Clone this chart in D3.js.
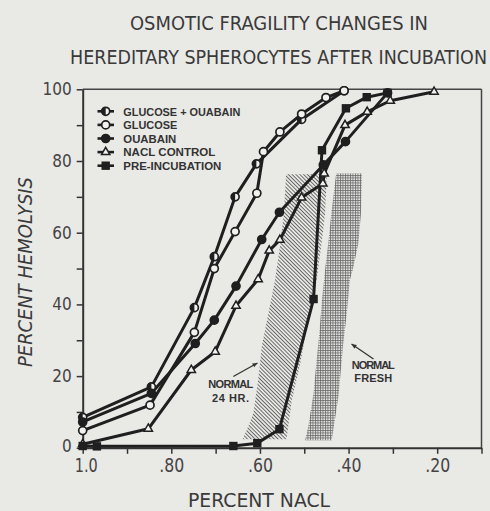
<!DOCTYPE html>
<html><head><meta charset="utf-8">
<script src="https://cdn.jsdelivr.net/npm/d3@7"></script>
<style>
html,body{margin:0;padding:0;background:#e9e9e6;}
svg{display:block;}
</style></head>
<body>
<script>
// ---- DATA ----
const titleLines = ["OSMOTIC FRAGILITY CHANGES IN", "HEREDITARY SPHEROCYTES AFTER INCUBATION"];
const xLabel = "PERCENT NACL";
const yLabel = "PERCENT HEMOLYSIS";
const xTicks = [1.0, 0.9, 0.8, 0.7, 0.6, 0.5, 0.4, 0.3, 0.2, 0.1];
const xTickLabels = ["1.0", "", ".80", "", ".60", "", ".40", "", ".20", ""];
const yTicks = [0, 10, 20, 30, 40, 50, 60, 70, 80, 90, 100];
const yTickLabels = ["0", "", "20", "", "40", "", "60", "", "80", "", "100"];

const seriesNames = ["GLUCOSE + OUABAIN", "GLUCOSE", "OUABAIN", "NACL CONTROL", "PRE-INCUBATION"];
const seriesMarkers = ["half", "open", "filled", "triangle", "square"];

const glucoseOuabainX = [1.0, 0.845, 0.748, 0.703, 0.656, 0.608, 0.506, 0.41];
const glucoseOuabainY = [8.5, 17.0, 39.1, 53.3, 70.0, 79.2, 91.6, 99.6];

const glucoseX = [1.0, 0.848, 0.748, 0.703, 0.656, 0.607, 0.592, 0.555, 0.506, 0.451, 0.41];
const glucoseY = [4.8, 11.9, 32.2, 50.0, 60.3, 71.0, 82.6, 88.1, 93.1, 97.7, 99.6];

const ouabainX = [1.0, 0.845, 0.746, 0.703, 0.654, 0.596, 0.556, 0.457, 0.407, 0.312];
const ouabainY = [7.2, 15.2, 29.1, 35.6, 45.1, 58.1, 65.7, 78.9, 85.4, 99.0];

const naclX = [1.0, 0.852, 0.755, 0.701, 0.654, 0.604, 0.579, 0.555, 0.506, 0.458, 0.455, 0.408, 0.358, 0.306, 0.207];
const naclY = [1.0, 5.3, 21.7, 26.8, 39.6, 47.0, 55.0, 58.0, 69.8, 73.7, 76.5, 90.0, 93.7, 96.8, 99.3];

const preincX = [1.0, 0.968, 0.66, 0.606, 0.556, 0.479, 0.46, 0.406, 0.359, 0.312];
const preincY = [0.5, 0.4, 0.5, 1.3, 5.2, 41.5, 83.0, 94.7, 97.8, 99.0];

// shaded normal ranges (left edge top->bottom, right edge bottom->top)
const normal24X = [0.541, 0.546, 0.555, 0.566, 0.581, 0.596, 0.604, 0.615, 0.630, 0.639,
                   0.540, 0.528, 0.509, 0.491, 0.472, 0.460, 0.453, 0.449];
const normal24Y = [76.3, 65.4, 56.1, 46.8, 37.5, 28.2, 18.9, 9.6, 4.9, 2.4,
                   2.4, 13.3, 23.5, 35.7, 46.8, 57.9, 65.4, 76.3];
const normalFreshX = [0.428, 0.438, 0.446, 0.453, 0.460, 0.466, 0.472, 0.479, 0.491, 0.498,
                      0.438, 0.423, 0.412, 0.404, 0.397, 0.389, 0.378, 0.372, 0.370];
const normalFreshY = [76.5, 66.3, 57.0, 49.6, 41.2, 31.9, 24.5, 15.2, 5.9, 2.1,
                      2.1, 14.2, 29.1, 37.5, 46.8, 50.5, 57.0, 65.4, 76.5];

const annot24 = ["NORMAL", "24 HR."];
const annotFresh = ["NORMAL", "FRESH"];

// ---- CHART ----
const W = 490, H = 511;
const ink = "#1f1f1f", textInk = "#3a3a3a";
const svg = d3.select("body").append("svg").attr("width", W).attr("height", H);
svg.append("rect").attr("width", W).attr("height", H).attr("fill", "#e9e9e6");

const x = d3.scaleLinear().domain([1.0, 0.1]).range([82.7, 481.5]);
const y = d3.scaleLinear().domain([0, 100]).range([447.8, 89.3]);

const defs = svg.append("defs");
const hatch = defs.append("pattern").attr("id", "hatch").attr("patternUnits", "userSpaceOnUse")
  .attr("width", 2.7).attr("height", 2.7).attr("patternTransform", "rotate(45)");
hatch.append("line").attr("x1", 0).attr("y1", 0.5).attr("x2", 2.7).attr("y2", 0.5)
  .attr("stroke", "#5a5a5a").attr("stroke-width", 0.9);
const grid = defs.append("pattern").attr("id", "grid").attr("patternUnits", "userSpaceOnUse")
  .attr("width", 2.5).attr("height", 2.5);
grid.append("path").attr("d", "M0,0.5H2.5M0.5,0V2.5").attr("stroke", "#666").attr("stroke-width", 0.8);

// title
const tFont = "'Liberation Sans Narrow','DejaVu Sans Condensed','Roboto Condensed',sans-serif";
svg.append("text").attr("x", 130).attr("y", 29.5).attr("textLength", 298).attr("lengthAdjust", "spacingAndGlyphs")
  .attr("font-family", tFont).attr("font-size", 19.5).attr("fill", textInk).text(titleLines[0]);
svg.append("text").attr("x", 70).attr("y", 64).attr("textLength", 417).attr("lengthAdjust", "spacingAndGlyphs")
  .attr("font-family", tFont).attr("font-size", 19.5).attr("fill", textInk).text(titleLines[1]);

// shaded regions
const area = (xs, ys) => d3.line()(xs.map((v, i) => [x(v), y(ys[i])])) + "Z";
svg.append("path").attr("d", area(normal24X, normal24Y)).attr("fill", "url(#hatch)");
svg.append("path").attr("d", area(normalFreshX, normalFreshY)).attr("fill", "url(#grid)");

// frame
svg.append("line").attr("x1", x(1.0)).attr("x2", x(0.1)).attr("y1", y(100)).attr("y2", y(100)).attr("stroke", "#444").attr("stroke-width", 1.5);
svg.append("line").attr("x1", x(0.1)).attr("x2", x(0.1)).attr("y1", y(100)).attr("y2", y(0)).attr("stroke", "#444").attr("stroke-width", 1.5);

// axes
const xAxis = svg.append("g").attr("transform", `translate(0,${y(0)})`)
  .call(d3.axisBottom(x).tickValues(xTicks).tickSize(6).tickSizeOuter(0)
    .tickFormat((d, i) => xTickLabels[i]));
const yAxis = svg.append("g").attr("transform", `translate(${x(1.0)},0)`)
  .call(d3.axisLeft(y).tickValues(yTicks).tickSize(6).tickSizeOuter(0)
    .tickFormat((d, i) => yTickLabels[i]));
[xAxis, yAxis].forEach(g => {
  g.select(".domain").attr("stroke", "#333").attr("stroke-width", 2);
  g.selectAll(".tick line").attr("stroke", "#333").attr("stroke-width", 1.5);
});
const numFont = "'Liberation Sans Narrow','DejaVu Sans Condensed',sans-serif";
xAxis.selectAll(".tick text").attr("font-family", numFont).attr("font-size", 20)
  .attr("fill", "#444").attr("y", 10).attr("dy", "0.71em")
  .each(function(d, i) {
    if (xTickLabels[i]) d3.select(this).attr("textLength", i === 0 ? 23 : 25).attr("lengthAdjust", "spacingAndGlyphs");
  })
  .attr("dx", (d, i) => i === 0 ? 3 : 0);
yAxis.selectAll(".tick text").attr("font-family", numFont).attr("font-size", 17)
  .attr("fill", "#444").attr("x", -11)
  .attr("dy", (d) => d === 0 ? "0.2em" : "0.32em");

// axis titles
svg.append("text").attr("x", 188).attr("y", 507).attr("textLength", 142).attr("lengthAdjust", "spacingAndGlyphs")
  .attr("font-family", tFont).attr("font-size", 19.5).attr("fill", textInk).text(xLabel);
svg.append("text").attr("transform", "translate(32,367) rotate(-90)").attr("textLength", 190)
  .attr("lengthAdjust", "spacingAndGlyphs").attr("font-style", "italic")
  .attr("font-family", tFont).attr("font-size", 19).attr("fill", textInk).text(yLabel);

// series
const series = [
  {xs: glucoseOuabainX, ys: glucoseOuabainY, m: seriesMarkers[0]},
  {xs: glucoseX, ys: glucoseY, m: seriesMarkers[1]},
  {xs: ouabainX, ys: ouabainY, m: seriesMarkers[2]},
  {xs: naclX, ys: naclY, m: seriesMarkers[3]},
  {xs: preincX, ys: preincY, m: seriesMarkers[4]}
];
const line = d3.line();
series.forEach(s => {
  svg.append("path").attr("d", line(s.xs.map((v, i) => [x(v), y(s.ys[i])])))
    .attr("fill", "none").attr("stroke", ink).attr("stroke-width", 3).attr("stroke-linejoin", "round");
});

function marker(g, type, cx, cy) {
  if (type === "open" || type === "half" || type === "filled") {
    g.append("circle").attr("cx", cx).attr("cy", cy).attr("r", 4)
      .attr("fill", type === "filled" ? ink : "#f2f2f0").attr("stroke", ink).attr("stroke-width", 1.7);
    if (type === "half") {
      g.append("path").attr("d", `M${cx},${cy - 4}A4,4 0 0 0 ${cx},${cy + 4}Z`).attr("fill", ink);
    }
  } else if (type === "triangle") {
    g.append("path").attr("d", d3.symbol().type(d3.symbolTriangle).size(30)())
      .attr("transform", `translate(${cx},${cy})`).attr("fill", "#f2f2f0").attr("stroke", ink).attr("stroke-width", 1.5);
  } else if (type === "square") {
    g.append("rect").attr("x", cx - 4.2).attr("y", cy - 4.2).attr("width", 8.4).attr("height", 8.4).attr("fill", ink);
  }
}
const mg = svg.append("g");
series.forEach(s => s.xs.forEach((v, i) => marker(mg, s.m, x(v), y(s.ys[i]))));

// legend
const legendW = [117, 54, 53, 92, 98];
const lg = svg.append("g");
seriesNames.forEach((n, i) => {
  const cy = 111.3 + i * 13.6;
  lg.append("line").attr("x1", 97.5).attr("x2", 114).attr("y1", cy).attr("y2", cy).attr("stroke", ink).attr("stroke-width", 2.6);
  marker(lg, seriesMarkers[i], 105.7, cy);
  lg.append("text").attr("x", 123.3).attr("y", cy + 4.2).attr("textLength", legendW[i]).attr("lengthAdjust", "spacingAndGlyphs")
    .attr("font-family", "'Liberation Sans','DejaVu Sans',sans-serif").attr("font-weight", "bold")
    .attr("font-size", 11).attr("fill", "#333").text(n);
});

// annotations
const aFont = "'Liberation Sans','DejaVu Sans',sans-serif";
svg.append("text").attr("x", 230.8).attr("y", 388.3).attr("text-anchor", "middle").attr("font-family", aFont)
  .attr("font-weight", "bold").attr("font-size", 11).attr("fill", "#333").attr("textLength", 45).text(annot24[0]);
svg.append("text").attr("x", 230.5).attr("y", 401.5).attr("text-anchor", "middle").attr("font-family", aFont)
  .attr("font-weight", "bold").attr("font-size", 11).attr("fill", "#333").attr("textLength", 37).text(annot24[1]);
svg.append("text").attr("x", 373.3).attr("y", 368.7).attr("text-anchor", "middle").attr("font-family", aFont)
  .attr("font-weight", "bold").attr("font-size", 11).attr("fill", "#333").attr("textLength", 43).text(annotFresh[0]);
svg.append("text").attr("x", 373.3).attr("y", 381.6).attr("text-anchor", "middle").attr("font-family", aFont)
  .attr("font-weight", "bold").attr("font-size", 11).attr("fill", "#333").attr("textLength", 38).text(annotFresh[1]);

function arrow(x1, y1, x2, y2) {
  svg.append("line").attr("x1", x1).attr("y1", y1).attr("x2", x2).attr("y2", y2).attr("stroke", "#333").attr("stroke-width", 1.3);
  const a = Math.atan2(y2 - y1, x2 - x1), L = 5, w = 2.2;
  const bx = x2 - L * Math.cos(a), by = y2 - L * Math.sin(a);
  svg.append("path").attr("d", `M${x2},${y2}L${bx - w * Math.sin(a)},${by + w * Math.cos(a)}L${bx + w * Math.sin(a)},${by - w * Math.cos(a)}Z`).attr("fill", "#333");
}
arrow(233.3, 376.5, 257.5, 363);
arrow(373.5, 359, 351.5, 344);
</script>
</body></html>
